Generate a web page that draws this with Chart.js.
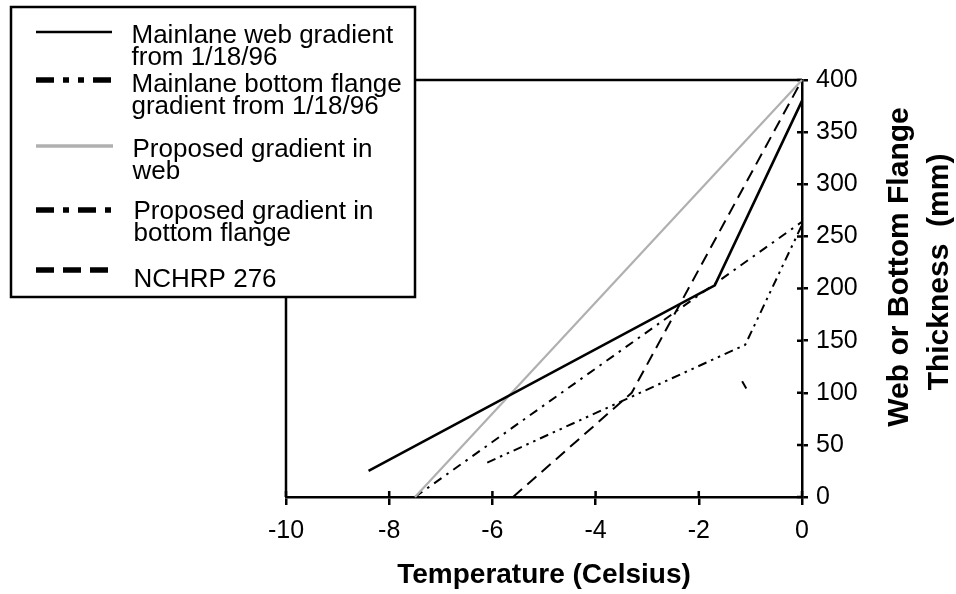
<!DOCTYPE html>
<html>
<head>
<meta charset="utf-8">
<script src="https://cdn.jsdelivr.net/npm/chart.js@4"></script>
<style>
  body { margin: 0; background: #fff; }
  canvas { display: block; }
</style>
</head>
<body>
<canvas id="grafica" width="956" height="594"></canvas>
<script>
// datos (temperatura en C, espesor en mm)
const temp_web_mainlane = [-8.4, -1.69, 0];
const esp_web_mainlane = [25, 203, 380];

// la marca suelta cerca de -1.1 va despues del null
const temp_flange_mainlane = [-6.1, -1.1, 0, null, -1.16, -1.08];
const esp_flange_mainlane = [33, 146, 261, null, 111, 104];

const temp_web_propuesto = [-7.5, 0];
const esp_web_propuesto = [0, 400];

const temp_flange_propuesto = [-7.5, 0];
const esp_flange_propuesto = [0, 264];

const temp_nchrp = [-5.6, -3.3, 0];
const esp_nchrp = [0, 100, 400];

const x_ticks = [-10, -8, -6, -4, -2, 0];
const y_ticks = [0, 50, 100, 150, 200, 250, 300, 350, 400];

const etiquetas = [
    ["Mainlane web gradient", "from 1/18/96"],
    ["Mainlane bottom flange", "gradient from 1/18/96"],
    ["Proposed gradient in", "web"],
    ["Proposed gradient in", "bottom flange"],
    ["NCHRP 276"]
];

const fuente = "'Liberation Sans', Arial, Helvetica, sans-serif";

function puntos(xs, ys) {
    return xs.map((x, i) => ({ x: x, y: ys[i] }));
}

// estilo de cada serie: [color, grosor, guiones en grafica, grosor leyenda, guiones leyenda]
const estilos = [
    ["#000", 2.6, [], 2.6, []],
    ["#000", 2, [9, 5, 2.5, 5, 2.5, 5], 5.5, [18, 9, 6, 9, 6, 9]],
    ["#b0b0b0", 2.2, [], 3.5, []],
    ["#000", 2, [9, 6, 2.5, 6], 5.5, [18, 9, 6, 9]],
    ["#000", 2, [12, 7], 5.5, [18, 9]]
];

const series = [
    puntos(temp_web_mainlane, esp_web_mainlane),
    puntos(temp_flange_mainlane, esp_flange_mainlane),
    puntos(temp_web_propuesto, esp_web_propuesto),
    puntos(temp_flange_propuesto, esp_flange_propuesto),
    puntos(temp_nchrp, esp_nchrp)
];

// marco, marcas de los ejes, titulos y leyenda
const extras = {
    id: 'extras',
    beforeDatasetsDraw(chart) {
        const ctx = chart.ctx;
        const a = chart.chartArea;
        ctx.save();
        ctx.strokeStyle = '#000';
        ctx.lineWidth = 2.5;
        ctx.beginPath();
        ctx.moveTo(a.left, a.bottom);
        ctx.lineTo(a.left, a.top);
        ctx.lineTo(a.right, a.top);
        ctx.stroke();
        // parte interior de las marcas
        const sx = chart.scales.x, sy = chart.scales.y;
        ctx.beginPath();
        x_ticks.forEach(v => {
            const px = sx.getPixelForValue(v);
            ctx.moveTo(px, a.bottom);
            ctx.lineTo(px, a.bottom - 6);
        });
        y_ticks.forEach(v => {
            const py = sy.getPixelForValue(v);
            ctx.moveTo(a.right, py);
            ctx.lineTo(a.right - 5, py);
        });
        ctx.stroke();
        ctx.restore();
    },
    afterDraw(chart) {
        const ctx = chart.ctx;
        const a = chart.chartArea;
        ctx.save();
        ctx.fillStyle = '#000';
        ctx.font = "bold 28px " + fuente;
        ctx.textAlign = 'center';
        ctx.textBaseline = 'alphabetic';
        ctx.fillText("Temperature (Celsius)", (a.left + a.right) / 2, 583);

        ctx.font = "bold 30px " + fuente;
        ctx.save();
        ctx.translate(908, 267);
        ctx.rotate(-Math.PI / 2);
        ctx.fillText("Web or Bottom Flange", 0, 0);
        ctx.restore();
        ctx.save();
        ctx.translate(948, 272);
        ctx.rotate(-Math.PI / 2);
        ctx.fillText("Thickness  (mm)", 0, 0);
        ctx.restore();

        // caja de la leyenda
        ctx.fillStyle = '#fff';
        ctx.fillRect(11, 7, 404, 290);
        ctx.strokeStyle = '#000';
        ctx.lineWidth = 2.5;
        ctx.strokeRect(11, 7, 404, 290);

        const y_muestra = [32, 80, 146, 210, 270];
        const y_texto = [42.5, 91.5, 156.5, 218.5, 286.5];
        const x_texto = [131.5, 131.5, 132.5, 133.5, 133.5];
        ctx.font = "26px " + fuente;
        ctx.textAlign = 'left';
        etiquetas.forEach((lineas, i) => {
            const e = estilos[i];
            ctx.strokeStyle = e[0];
            ctx.lineWidth = e[3];
            ctx.lineCap = 'butt';
            ctx.setLineDash(e[4]);
            ctx.beginPath();
            ctx.moveTo(36, y_muestra[i]);
            ctx.lineTo(i == 2 ? 113 : 112, y_muestra[i]);
            ctx.stroke();
            ctx.setLineDash([]);
            ctx.fillStyle = '#000';
            lineas.forEach((t, j) => {
                ctx.fillText(t, x_texto[i], y_texto[i] + j * 22);
            });
        });
        ctx.restore();
    }
};

const miCanvas = document.getElementById("grafica").getContext("2d");

const chart = new Chart(miCanvas, {
    type: "scatter",
    data: {
        datasets: series.map((d, i) => ({
            label: etiquetas[i].join(" "),
            data: d,
            showLine: true,
            spanGaps: false,
            borderColor: estilos[i][0],
            borderWidth: estilos[i][1],
            borderDash: estilos[i][2],
            pointRadius: 0,
            fill: false,
            tension: 0,
            clip: 4
        }))
    },
    options: {
        responsive: false,
        animation: false,
        events: [],
        layout: {
            padding: { left: 286, top: 80, right: 94, bottom: 47 }
        },
        plugins: {
            legend: { display: false },
            tooltip: { enabled: false }
        },
        scales: {
            x: {
                type: "linear",
                position: "bottom",
                min: -10,
                max: 0,
                afterBuildTicks: (scale) => { scale.ticks = x_ticks.map(v => ({ value: v })); },
                afterFit: (scale) => { scale.height = 50; },
                ticks: {
                    color: "#000",
                    font: { family: fuente, size: 25 },
                    padding: 11,
                    maxRotation: 0
                },
                grid: {
                    drawOnChartArea: false,
                    tickLength: 8,
                    color: "#000",
                    lineWidth: 2.5
                },
                border: { display: true, color: "#000", width: 2.5 }
            },
            y: {
                type: "linear",
                position: "right",
                min: 0,
                max: 400,
                afterBuildTicks: (scale) => { scale.ticks = y_ticks.map(v => ({ value: v })); },
                afterFit: (scale) => { scale.width = 60; },
                ticks: {
                    color: "#000",
                    font: { family: fuente, size: 25 },
                    padding: 8
                },
                grid: {
                    drawOnChartArea: false,
                    tickLength: 6,
                    color: "#000",
                    lineWidth: 2.5
                },
                border: { display: true, color: "#000", width: 2.5 }
            }
        }
    },
    plugins: [extras]
});
</script>
</body>
</html>
